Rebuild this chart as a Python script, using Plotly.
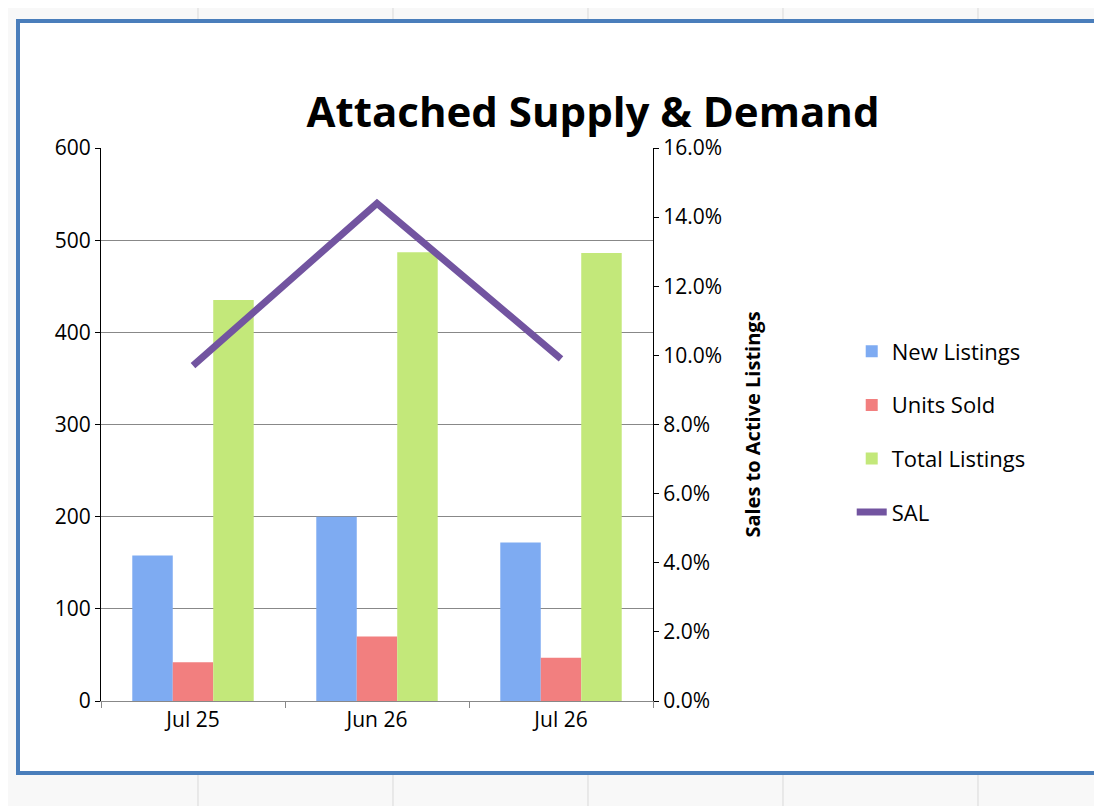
import plotly.graph_objects as go

months = ["Jul 25", "Jun 26", "Jul 26"]
new_listings = [158, 200, 172]
units_sold = [42, 70, 47]
total_listings = [435, 487, 486]
sal = [0.097, 0.144, 0.099]

fig = go.Figure()
fig.add_trace(go.Bar(x=months, y=new_listings, name="New Listings", legendgroup="a",
                     marker=dict(color="#7eabf2", line=dict(width=0))))
fig.add_trace(go.Bar(x=months, y=units_sold, name="Units Sold", legendgroup="b",
                     marker=dict(color="#f27f7f", line=dict(width=0))))
fig.add_trace(go.Bar(x=months, y=total_listings, name="Total Listings", legendgroup="c",
                     marker=dict(color="#c3e87a", line=dict(width=0))))
fig.add_trace(go.Scatter(x=months, y=sal, name="SAL", yaxis="y2", mode="lines",
                         legendgroup="d", line=dict(color="#7254a0", width=7)))

# spreadsheet grid behind the chart
shapes = []
for xp in [190, 385, 580, 775, 970]:
    shapes.append(dict(type="line", xref="paper", yref="paper",
                       x0=(xp - 93) / 552, x1=(xp - 93) / 552, y0=-0.2, y1=1.3,
                       line=dict(color="#d9d9d9", width=1), layer="below"))
shapes.append(dict(type="rect", xref="paper", yref="paper",
                   x0=(10 - 93) / 552, x1=(1088 - 93) / 552,
                   y0=(700 - 772) / 553, y1=(700 - 20) / 553,
                   fillcolor="white", line=dict(color="#4a7ebb", width=4), layer="below"))

fig.update_layout(
    width=1102, height=806,
    margin=dict(l=93, r=457, t=140, b=113),
    paper_bgcolor="#f8f8f8", plot_bgcolor="rgba(0,0,0,0)",
    font=dict(family="Open Sans", size=20, color="black"),
    title=dict(text="<b>Attached Supply & Demand</b>", x=585 / 1102, xanchor="center",
               y=1 - 104 / 806, yanchor="middle", font=dict(size=42)),
    barmode="group", bargap=0.34, bargroupgap=0,
    shapes=shapes,
    legend=dict(x=1.36, y=0.67, xanchor="left", yanchor="top",
                font=dict(size=22), tracegroupgap=22, bgcolor="rgba(0,0,0,0)"),
    xaxis=dict(showline=True, linecolor="#888", ticks="outside", tickson="boundaries",
               ticklen=6, tickcolor="#888", tickfont=dict(size=21)),
    yaxis=dict(range=[0, 600], dtick=100, showline=True, linecolor="black",
               ticks="outside", tickcolor="black", gridcolor="#888", zeroline=False,
               tickfont=dict(size=21)),
    yaxis2=dict(range=[0, 0.16], dtick=0.02, tickformat=".1%", overlaying="y",
                side="right", showline=True, linecolor="black", ticks="outside",
                tickcolor="black", showgrid=False, tickfont=dict(size=21),
                title=dict(text="<b>Sales to Active Listings</b>", font=dict(size=20),
                           standoff=24)),
)
fig.write_html("out.html")
